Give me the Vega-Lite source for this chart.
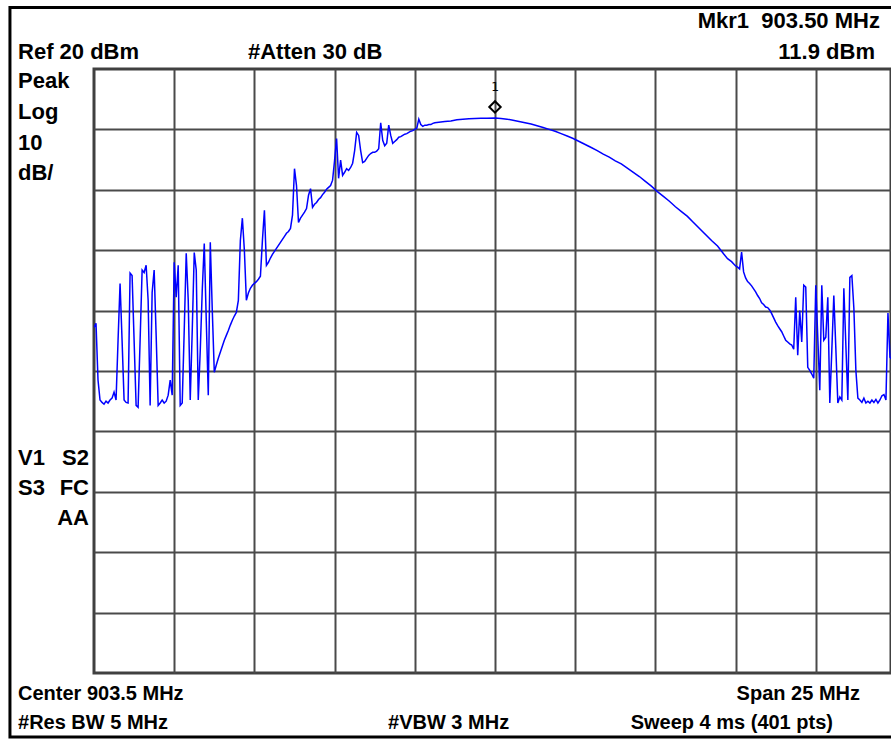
{
  "$schema": "https://vega.github.io/schema/vega-lite/v6.json",
  "width": 797,
  "height": 604,
  "autosize": {"type": "none"},
  "padding": {"left": 94, "top": 69, "right": 0, "bottom": 66},
  "background": "white",
  "config": {
    "view": {"stroke": "#404040", "strokeWidth": 3},
    "axis": {"gridColor": "#4a4a4a", "gridWidth": 2, "gridOpacity": 1, "labels": false, "ticks": false, "domain": false, "title": null}
  },
  "datasets": {
    "trace": [
      {"f": 891, "dBm": -22.8}, {"f": 891.0625, "dBm": -22.1}, {"f": 891.125, "dBm": -31.5}, {"f": 891.1875, "dBm": -34.8},
      {"f": 891.25, "dBm": -35.2}, {"f": 891.3125, "dBm": -35.5}, {"f": 891.375, "dBm": -35.0}, {"f": 891.4375, "dBm": -35.3},
      {"f": 891.5, "dBm": -34.8}, {"f": 891.5625, "dBm": -34.5}, {"f": 891.625, "dBm": -33.5}, {"f": 891.6875, "dBm": -34.8},
      {"f": 891.75, "dBm": -24.9}, {"f": 891.8125, "dBm": -15.5}, {"f": 891.875, "dBm": -24.9}, {"f": 891.9375, "dBm": -34.8},
      {"f": 892, "dBm": -35.2}, {"f": 892.0625, "dBm": -35.3}, {"f": 892.125, "dBm": -13.8}, {"f": 892.1875, "dBm": -14.2},
      {"f": 892.25, "dBm": -24.9}, {"f": 892.3125, "dBm": -35.7}, {"f": 892.375, "dBm": -36.0}, {"f": 892.4375, "dBm": -24.9},
      {"f": 892.5, "dBm": -13.3}, {"f": 892.5625, "dBm": -13.7}, {"f": 892.625, "dBm": -12.5}, {"f": 892.6875, "dBm": -18.3},
      {"f": 892.75, "dBm": -35.7}, {"f": 892.8125, "dBm": -17.0}, {"f": 892.875, "dBm": -13.3}, {"f": 892.9375, "dBm": -24.1},
      {"f": 893, "dBm": -35.7}, {"f": 893.0625, "dBm": -35.3}, {"f": 893.125, "dBm": -34.8}, {"f": 893.1875, "dBm": -35.3},
      {"f": 893.25, "dBm": -35.0}, {"f": 893.3125, "dBm": -34.0}, {"f": 893.375, "dBm": -31.5}, {"f": 893.4375, "dBm": -34.0},
      {"f": 893.5, "dBm": -12.0}, {"f": 893.5625, "dBm": -17.8}, {"f": 893.625, "dBm": -12.5}, {"f": 893.6875, "dBm": -35.7},
      {"f": 893.75, "dBm": -35.3}, {"f": 893.8125, "dBm": -23.3}, {"f": 893.875, "dBm": -10.5}, {"f": 893.9375, "dBm": -18.3},
      {"f": 894, "dBm": -34.8}, {"f": 894.0625, "dBm": -23.3}, {"f": 894.125, "dBm": -10.4}, {"f": 894.1875, "dBm": -13.3},
      {"f": 894.25, "dBm": -34.8}, {"f": 894.3125, "dBm": -26.6}, {"f": 894.375, "dBm": -16.6}, {"f": 894.4375, "dBm": -8.9},
      {"f": 894.5, "dBm": -21.6}, {"f": 894.5625, "dBm": -34.0}, {"f": 894.625, "dBm": -8.7}, {"f": 894.6875, "dBm": -20.0},
      {"f": 894.75, "dBm": -30.2}, {"f": 894.8125, "dBm": -29.0}, {"f": 894.875, "dBm": -27.9}, {"f": 894.9375, "dBm": -26.9},
      {"f": 895, "dBm": -25.9}, {"f": 895.0625, "dBm": -24.9}, {"f": 895.125, "dBm": -24.1}, {"f": 895.1875, "dBm": -23.3},
      {"f": 895.25, "dBm": -22.4}, {"f": 895.3125, "dBm": -21.6}, {"f": 895.375, "dBm": -20.9}, {"f": 895.4375, "dBm": -20.3},
      {"f": 895.5, "dBm": -18.3}, {"f": 895.5625, "dBm": -8.4}, {"f": 895.625, "dBm": -4.7}, {"f": 895.6875, "dBm": -10.0},
      {"f": 895.75, "dBm": -18.3}, {"f": 895.8125, "dBm": -17.1}, {"f": 895.875, "dBm": -16.3}, {"f": 895.9375, "dBm": -15.8},
      {"f": 896, "dBm": -15.5}, {"f": 896.0625, "dBm": -15.2}, {"f": 896.125, "dBm": -14.8}, {"f": 896.1875, "dBm": -14.3},
      {"f": 896.25, "dBm": -8.4}, {"f": 896.3125, "dBm": -3.4}, {"f": 896.375, "dBm": -12.5}, {"f": 896.4375, "dBm": -12.0},
      {"f": 896.5, "dBm": -11.3}, {"f": 896.5625, "dBm": -10.7}, {"f": 896.625, "dBm": -10.2}, {"f": 896.6875, "dBm": -9.7},
      {"f": 896.75, "dBm": -9.2}, {"f": 896.8125, "dBm": -8.7}, {"f": 896.875, "dBm": -8.2}, {"f": 896.9375, "dBm": -7.7},
      {"f": 897, "dBm": -7.2}, {"f": 897.0625, "dBm": -6.9}, {"f": 897.125, "dBm": -6.4}, {"f": 897.1875, "dBm": -4.2},
      {"f": 897.25, "dBm": 3.5}, {"f": 897.3125, "dBm": 0.7}, {"f": 897.375, "dBm": -5.4}, {"f": 897.4375, "dBm": -4.7},
      {"f": 897.5, "dBm": -4.2}, {"f": 897.5625, "dBm": -3.7}, {"f": 897.625, "dBm": -3.1}, {"f": 897.6875, "dBm": -0.9},
      {"f": 897.75, "dBm": 0.2}, {"f": 897.8125, "dBm": -2.9}, {"f": 897.875, "dBm": -2.4}, {"f": 897.9375, "dBm": -2.1},
      {"f": 898, "dBm": -1.6}, {"f": 898.0625, "dBm": -1.3}, {"f": 898.125, "dBm": -0.8}, {"f": 898.1875, "dBm": -0.4},
      {"f": 898.25, "dBm": 0.1}, {"f": 898.3125, "dBm": 0.4}, {"f": 898.375, "dBm": 0.7}, {"f": 898.4375, "dBm": 1.6},
      {"f": 898.5, "dBm": 4.9}, {"f": 898.5625, "dBm": 8.5}, {"f": 898.625, "dBm": 1.9}, {"f": 898.6875, "dBm": 4.9},
      {"f": 898.75, "dBm": 2.4}, {"f": 898.8125, "dBm": 2.9}, {"f": 898.875, "dBm": 3.5}, {"f": 898.9375, "dBm": 3.2},
      {"f": 899, "dBm": 3.7}, {"f": 899.0625, "dBm": 4.4}, {"f": 899.125, "dBm": 6.5}, {"f": 899.1875, "dBm": 9.5},
      {"f": 899.25, "dBm": 9.0}, {"f": 899.3125, "dBm": 6.5}, {"f": 899.375, "dBm": 4.5}, {"f": 899.4375, "dBm": 4.7},
      {"f": 899.5, "dBm": 5.2}, {"f": 899.5625, "dBm": 5.7}, {"f": 899.625, "dBm": 6.0}, {"f": 899.6875, "dBm": 6.2},
      {"f": 899.75, "dBm": 6.2}, {"f": 899.8125, "dBm": 6.4}, {"f": 899.875, "dBm": 6.8}, {"f": 899.9375, "dBm": 11.1},
      {"f": 900, "dBm": 8.2}, {"f": 900.0625, "dBm": 7.3}, {"f": 900.125, "dBm": 7.7}, {"f": 900.1875, "dBm": 10.7},
      {"f": 900.25, "dBm": 9.0}, {"f": 900.3125, "dBm": 7.7}, {"f": 900.375, "dBm": 8.0}, {"f": 900.4375, "dBm": 8.3},
      {"f": 900.5, "dBm": 8.7}, {"f": 900.5625, "dBm": 8.8}, {"f": 900.625, "dBm": 9.0}, {"f": 900.6875, "dBm": 9.2},
      {"f": 900.75, "dBm": 9.3}, {"f": 900.8125, "dBm": 9.5}, {"f": 900.875, "dBm": 9.7}, {"f": 900.9375, "dBm": 9.8},
      {"f": 901, "dBm": 10.0}, {"f": 901.0625, "dBm": 10.2}, {"f": 901.125, "dBm": 11.7}, {"f": 901.1875, "dBm": 10.8},
      {"f": 901.25, "dBm": 10.5}, {"f": 901.3125, "dBm": 10.7}, {"f": 901.375, "dBm": 10.7}, {"f": 901.4375, "dBm": 10.8},
      {"f": 901.5, "dBm": 10.8}, {"f": 901.5625, "dBm": 11.0}, {"f": 901.625, "dBm": 11.1}, {"f": 901.75, "dBm": 11.2},
      {"f": 901.9375, "dBm": 11.3}, {"f": 902.125, "dBm": 11.4}, {"f": 902.3125, "dBm": 11.6}, {"f": 902.5, "dBm": 11.7},
      {"f": 902.6875, "dBm": 11.75}, {"f": 902.875, "dBm": 11.8}, {"f": 903.0625, "dBm": 11.85}, {"f": 903.25, "dBm": 11.85},
      {"f": 903.5, "dBm": 11.9}, {"f": 903.6875, "dBm": 11.8}, {"f": 903.875, "dBm": 11.7}, {"f": 904.0625, "dBm": 11.5},
      {"f": 904.25, "dBm": 11.3}, {"f": 904.4375, "dBm": 11.1}, {"f": 904.625, "dBm": 10.9}, {"f": 904.8125, "dBm": 10.6},
      {"f": 905, "dBm": 10.3}, {"f": 905.1875, "dBm": 10.0}, {"f": 905.375, "dBm": 9.7}, {"f": 905.5625, "dBm": 9.3},
      {"f": 905.75, "dBm": 8.9}, {"f": 905.9375, "dBm": 8.5}, {"f": 906.125, "dBm": 8.0}, {"f": 906.3125, "dBm": 7.5},
      {"f": 906.5, "dBm": 7.0}, {"f": 906.6875, "dBm": 6.5}, {"f": 906.875, "dBm": 5.9}, {"f": 907.0625, "dBm": 5.4},
      {"f": 907.25, "dBm": 4.8}, {"f": 907.4375, "dBm": 4.3}, {"f": 907.625, "dBm": 3.6}, {"f": 907.8125, "dBm": 2.9},
      {"f": 908, "dBm": 2.2}, {"f": 908.1875, "dBm": 1.4}, {"f": 908.375, "dBm": 0.6}, {"f": 908.5625, "dBm": -0.3},
      {"f": 908.75, "dBm": -1.1}, {"f": 908.9375, "dBm": -1.9}, {"f": 909.125, "dBm": -2.8}, {"f": 909.3125, "dBm": -3.6},
      {"f": 909.5, "dBm": -4.4}, {"f": 909.6875, "dBm": -5.4}, {"f": 909.875, "dBm": -6.4}, {"f": 910.0625, "dBm": -7.4},
      {"f": 910.25, "dBm": -8.4}, {"f": 910.4375, "dBm": -9.3}, {"f": 910.625, "dBm": -10.6}, {"f": 910.75, "dBm": -11.4},
      {"f": 910.875, "dBm": -11.9}, {"f": 911, "dBm": -12.6}, {"f": 911.0625, "dBm": -12.8}, {"f": 911.125, "dBm": -13.1},
      {"f": 911.1875, "dBm": -10.3}, {"f": 911.25, "dBm": -13.6}, {"f": 911.3125, "dBm": -14.6}, {"f": 911.375, "dBm": -15.2},
      {"f": 911.4375, "dBm": -15.5}, {"f": 911.5, "dBm": -15.9}, {"f": 911.5625, "dBm": -16.4}, {"f": 911.625, "dBm": -16.9},
      {"f": 911.6875, "dBm": -17.5}, {"f": 911.75, "dBm": -18.0}, {"f": 911.8125, "dBm": -18.7}, {"f": 911.875, "dBm": -19.0},
      {"f": 911.9375, "dBm": -19.4}, {"f": 912, "dBm": -19.5}, {"f": 912.0625, "dBm": -19.9}, {"f": 912.125, "dBm": -20.5},
      {"f": 912.1875, "dBm": -21.2}, {"f": 912.25, "dBm": -21.9}, {"f": 912.3125, "dBm": -22.5}, {"f": 912.375, "dBm": -23.0},
      {"f": 912.4375, "dBm": -23.5}, {"f": 912.5, "dBm": -24.2}, {"f": 912.5625, "dBm": -24.9}, {"f": 912.625, "dBm": -25.2},
      {"f": 912.6875, "dBm": -25.5}, {"f": 912.75, "dBm": -25.7}, {"f": 912.8125, "dBm": -26.4}, {"f": 912.875, "dBm": -17.8},
      {"f": 912.9375, "dBm": -27.4}, {"f": 913, "dBm": -20.0}, {"f": 913.0625, "dBm": -25.2}, {"f": 913.125, "dBm": -15.8},
      {"f": 913.1875, "dBm": -16.1}, {"f": 913.25, "dBm": -29.4}, {"f": 913.3125, "dBm": -29.9}, {"f": 913.375, "dBm": -30.5},
      {"f": 913.4375, "dBm": -31.2}, {"f": 913.5, "dBm": -15.8}, {"f": 913.5625, "dBm": -24.4}, {"f": 913.625, "dBm": -33.2},
      {"f": 913.6875, "dBm": -15.8}, {"f": 913.75, "dBm": -24.9}, {"f": 913.8125, "dBm": -24.4}, {"f": 913.875, "dBm": -17.8},
      {"f": 913.9375, "dBm": -35.3}, {"f": 914, "dBm": -26.6}, {"f": 914.0625, "dBm": -17.5}, {"f": 914.125, "dBm": -26.2},
      {"f": 914.1875, "dBm": -35.3}, {"f": 914.25, "dBm": -34.3}, {"f": 914.3125, "dBm": -34.8}, {"f": 914.375, "dBm": -16.3},
      {"f": 914.4375, "dBm": -25.7}, {"f": 914.5, "dBm": -34.8}, {"f": 914.5625, "dBm": -14.5}, {"f": 914.625, "dBm": -14.2},
      {"f": 914.6875, "dBm": -19.6}, {"f": 914.75, "dBm": -29.9}, {"f": 914.8125, "dBm": -34.5}, {"f": 914.875, "dBm": -34.8},
      {"f": 914.9375, "dBm": -35.2}, {"f": 915, "dBm": -34.5}, {"f": 915.0625, "dBm": -35.3}, {"f": 915.125, "dBm": -35.0},
      {"f": 915.1875, "dBm": -35.3}, {"f": 915.25, "dBm": -34.8}, {"f": 915.3125, "dBm": -35.2}, {"f": 915.375, "dBm": -34.7},
      {"f": 915.4375, "dBm": -35.3}, {"f": 915.5, "dBm": -34.8}, {"f": 915.5625, "dBm": -34.1}, {"f": 915.625, "dBm": -33.9},
      {"f": 915.6875, "dBm": -34.8}, {"f": 915.75, "dBm": -20.4}, {"f": 915.8125, "dBm": -27.7}, {"f": 915.875, "dBm": -28.1},
      {"f": 915.9375, "dBm": -34.8}, {"f": 916, "dBm": -35.2}
    ],
    "marker": [{"f": 903.5, "dBm": 11.9, "label": "1"}],
    "notesLeft": [
      {"text": "Ref 20 dBm", "f": 888.631, "dBm": 21.66},
      {"text": "#Atten 30 dB", "f": 895.80, "dBm": 21.66},
      {"text": "Peak", "f": 888.631, "dBm": 16.85},
      {"text": "Log", "f": 888.631, "dBm": 11.72},
      {"text": "10", "f": 888.631, "dBm": 6.59},
      {"text": "dB/", "f": 888.631, "dBm": 1.62},
      {"text": "V1", "f": 888.631, "dBm": -45.56},
      {"text": "S3", "f": 888.631, "dBm": -50.53}
    ],
    "notesRight": [
      {"text": "Mkr1\u00a0\u00a0903.50 MHz", "f": 915.50, "dBm": 26.79},
      {"text": "11.9 dBm", "f": 915.345, "dBm": 21.66},
      {"text": "S2", "f": 890.844, "dBm": -45.56},
      {"text": "FC", "f": 890.844, "dBm": -50.53},
      {"text": "AA", "f": 890.844, "dBm": -55.50}
    ],
    "footLeft": [
      {"text": "Center 903.5 MHz", "f": 888.631, "dBm": -84.47},
      {"text": "#Res BW 5 MHz", "f": 888.631, "dBm": -89.27},
      {"text": "#VBW 3 MHz", "f": 900.165, "dBm": -89.27}
    ],
    "footRight": [
      {"text": "Span 25 MHz", "f": 914.878, "dBm": -84.47},
      {"text": "Sweep 4 ms (401 pts)", "f": 914.036, "dBm": -89.27}
    ],
    "frame": [{"f1": 888.38, "f2": 916.2, "d1": 30.18, "d2": -90.6}]
  },
  "layer": [
    {
      "data": {"name": "trace"},
      "mark": {"type": "line", "color": "#0000ff", "strokeWidth": 1.5, "clip": true, "interpolate": "linear"},
      "encoding": {
        "x": {"field": "f", "type": "quantitative", "scale": {"domain": [891, 915.845], "nice": false, "zero": false},
              "axis": {"grid": true, "values": [893.5, 896, 898.5, 901, 903.5, 906, 908.5, 911, 913.5]}},
        "y": {"field": "dBm", "type": "quantitative", "scale": {"domain": [-80, 20], "nice": false, "zero": false},
              "axis": {"grid": true, "values": [-70, -60, -50, -40, -30, -20, -10, 0, 10]}}
      }
    },
    {
      "data": {"name": "marker"},
      "mark": {"type": "point", "shape": "diamond", "size": 130, "filled": false, "stroke": "black", "strokeWidth": 2, "opacity": 1, "yOffset": -11},
      "encoding": {"x": {"field": "f", "type": "quantitative"}, "y": {"field": "dBm", "type": "quantitative"}}
    },
    {
      "data": {"name": "marker"},
      "mark": {"type": "text", "font": "DejaVu Sans Mono", "fontSize": 13, "color": "black", "baseline": "alphabetic", "dy": -27},
      "encoding": {"x": {"field": "f", "type": "quantitative"}, "y": {"field": "dBm", "type": "quantitative"}, "text": {"field": "label"}}
    },
    {
      "data": {"name": "notesLeft"},
      "mark": {"type": "text", "font": "Liberation Sans", "fontWeight": "bold", "fontSize": 22, "color": "black", "align": "left", "baseline": "alphabetic"},
      "encoding": {"x": {"field": "f", "type": "quantitative"}, "y": {"field": "dBm", "type": "quantitative"}, "text": {"field": "text"}}
    },
    {
      "data": {"name": "notesRight"},
      "mark": {"type": "text", "font": "Liberation Sans", "fontWeight": "bold", "fontSize": 22, "color": "black", "align": "right", "baseline": "alphabetic"},
      "encoding": {"x": {"field": "f", "type": "quantitative"}, "y": {"field": "dBm", "type": "quantitative"}, "text": {"field": "text"}}
    },
    {
      "data": {"name": "footLeft"},
      "mark": {"type": "text", "font": "Liberation Sans", "fontWeight": "bold", "fontSize": 20, "color": "black", "align": "left", "baseline": "alphabetic"},
      "encoding": {"x": {"field": "f", "type": "quantitative"}, "y": {"field": "dBm", "type": "quantitative"}, "text": {"field": "text"}}
    },
    {
      "data": {"name": "footRight"},
      "mark": {"type": "text", "font": "Liberation Sans", "fontWeight": "bold", "fontSize": 20, "color": "black", "align": "right", "baseline": "alphabetic"},
      "encoding": {"x": {"field": "f", "type": "quantitative"}, "y": {"field": "dBm", "type": "quantitative"}, "text": {"field": "text"}}
    },
    {
      "data": {"name": "frame"},
      "mark": {"type": "rect", "fill": null, "fillOpacity": 0, "stroke": "black", "strokeWidth": 3, "clip": false},
      "encoding": {
        "x": {"field": "f1", "type": "quantitative"}, "x2": {"field": "f2"},
        "y": {"field": "d1", "type": "quantitative"}, "y2": {"field": "d2"}
      }
    }
  ]
}
